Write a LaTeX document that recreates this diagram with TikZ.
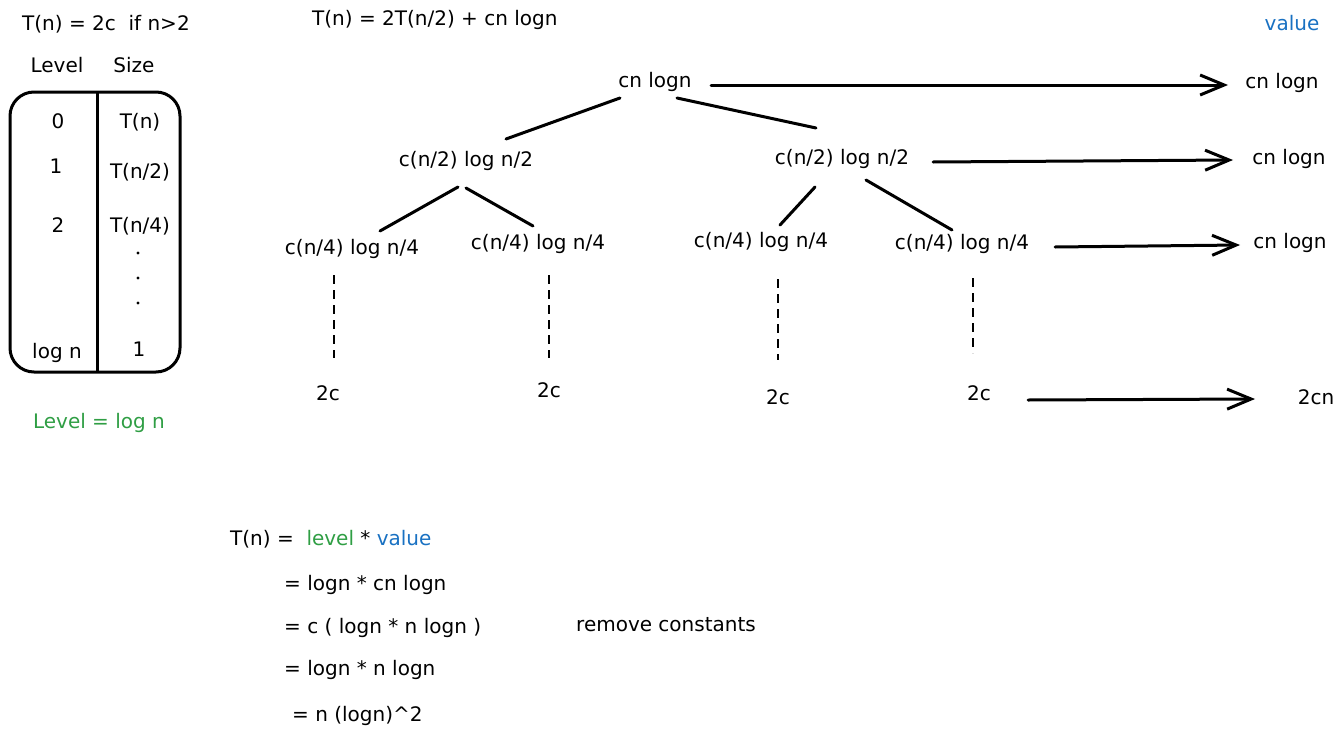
\documentclass[tikz,border=0pt]{standalone}
\usepackage{fontspec}
\setmainfont{DejaVu Sans}
\usetikzlibrary{arrows.meta}
\definecolor{lvlgreen}{HTML}{2F9E44}
\definecolor{valblue}{HTML}{1971C2}

\begin{document}
\begin{tikzpicture}[x=1pt, y=-1pt,
    lbl/.style={font=\fontsize{20}{23}\selectfont, inner sep=3pt, text height=14pt, text depth=4pt},
    edge/.style={line width=3pt, line cap=round},
    dashln/.style={line width=2.6pt, dash pattern=on 9pt off 6pt},
    valarrow/.style={line width=3pt, line cap=round, -{Straight Barb[length=24pt,width=20pt]}}]

    \useasboundingbox (0,0) rectangle (1343,736);

    % Recurrence on top
    \node[lbl, anchor=west] (base) at (19,25) {T(n) = 2c\ \ if n>2};
    \node[lbl, anchor=west] (rec) at (309,20) {T(n) = 2T(n/2) + cn logn};
    \node[lbl, valblue] (valhead) at (1292,25) {value};

    % Level / size table
    \node[lbl] (lvlhead) at (57,67) {Level};
    \node[lbl] (sizehead) at (134,67) {Size};
    \draw[line width=3pt, rounded corners=24pt] (10,92) rectangle (180,372);
    \draw[line width=3pt] (97,92) -- (97,372);

    \node[lbl] (lvl0) at (58,123) {0};
    \node[lbl] (size0) at (140,123) {T(n)};
    \node[lbl] (lvl1) at (56,168) {1};
    \node[lbl] (size1) at (140,173) {T(n/2)};
    \node[lbl] (lvl2) at (58,227) {2};
    \node[lbl] (size2) at (140,227) {T(n/4)};
    \fill (138,253) circle (1.7pt);
    \fill (138,278) circle (1.7pt);
    \fill (138,303) circle (1.7pt);
    \node[lbl] (lvlk) at (57,353) {log n};
    \node[lbl] (sizek) at (139,351) {1};

    \node[lbl, lvlgreen] (lvlcount) at (99,423) {Level = log n};

    % Recursion tree
    \node[lbl] (root) at (655,82) {cn logn};
    \node[lbl] (lefthalf) at (466,161) {c(n/2) log n/2};
    \node[lbl] (righthalf) at (842,159) {c(n/2) log n/2};
    \node[lbl] (quartA) at (352,249) {c(n/4) log n/4};
    \node[lbl] (quartB) at (538,244) {c(n/4) log n/4};
    \node[lbl] (quartC) at (761,242) {c(n/4) log n/4};
    \node[lbl] (quartD) at (962,244) {c(n/4) log n/4};
    \node[lbl] (leafA) at (328,395) {2c};
    \node[lbl] (leafB) at (549,392) {2c};
    \node[lbl] (leafC) at (778,399) {2c};
    \node[lbl] (leafD) at (979,395) {2c};

    \draw[edge] ([shift={(-35,16)}]root.center) -- ([shift={(40,-22)}]lefthalf.center);
    \draw[edge] ([shift={(22,16)}]root.center) -- ([shift={(-26,-31)}]righthalf.center);
    \draw[edge] ([shift={(-8,26)}]lefthalf.center) -- ([shift={(28,-18)}]quartA.center);
    \draw[edge] ([shift={(0,27)}]lefthalf.center) -- ([shift={(-5,-18)}]quartB.center);
    \draw[edge] ([shift={(-27,28)}]righthalf.center) -- ([shift={(19,-17)}]quartC.center);
    \draw[edge] ([shift={(24,21)}]righthalf.center) -- ([shift={(-10,-14)}]quartD.center);

    % Down to the leaves
    \draw[dashln] ([shift={(-18,26)}]quartA.center) -- ([shift={(6,-37)}]leafA.center);
    \draw[dashln] ([shift={(11,31)}]quartB.center) -- ([shift={(0,-34)}]leafB.center);
    \draw[dashln] ([shift={(17,37)}]quartC.center) -- ([shift={(0,-39)}]leafC.center);
    \draw[dashln] ([shift={(11,34)}]quartD.center) -- ([shift={(-6,-42)}]leafD.center);

    % Cost per level
    \node[lbl] (cost0) at (1282,83) {cn logn};
    \node[lbl] (cost1) at (1289,159) {cn logn};
    \node[lbl] (cost2) at (1290,243) {cn logn};
    \node[lbl] (costk) at (1316,399) {2cn};

    \draw[valarrow] ([shift={(56,3)}]root.center) -- ([shift={(-54,2)}]cost0.center);
    \draw[valarrow] ([shift={(91,3)}]righthalf.center) -- ([shift={(-56,1)}]cost1.center);
    \draw[valarrow] ([shift={(93,3)}]quartD.center) -- ([shift={(-50,2)}]cost2.center);
    \draw[valarrow] ([shift={(49,5)}]leafD.center) -- ([shift={(-61,0)}]costk.center);

    % Total
    \node[lbl, anchor=west] (total) at (227,540)
         {T(n) =\ \ \textcolor{lvlgreen}{level} * \textcolor{valblue}{value}};
    \node[lbl, anchor=west] (step1) at (281,585) {= logn * cn logn};
    \node[lbl, anchor=west] (step2) at (281,628) {= c ( logn * n logn )};
    \node[lbl, anchor=west] (note) at (573,626) {remove constants};
    \node[lbl, anchor=west] (step3) at (281,670) {= logn * n logn};
    \node[lbl, anchor=west] (step4) at (289,716) {= n (logn)\^{}2};

\end{tikzpicture}
\end{document}
